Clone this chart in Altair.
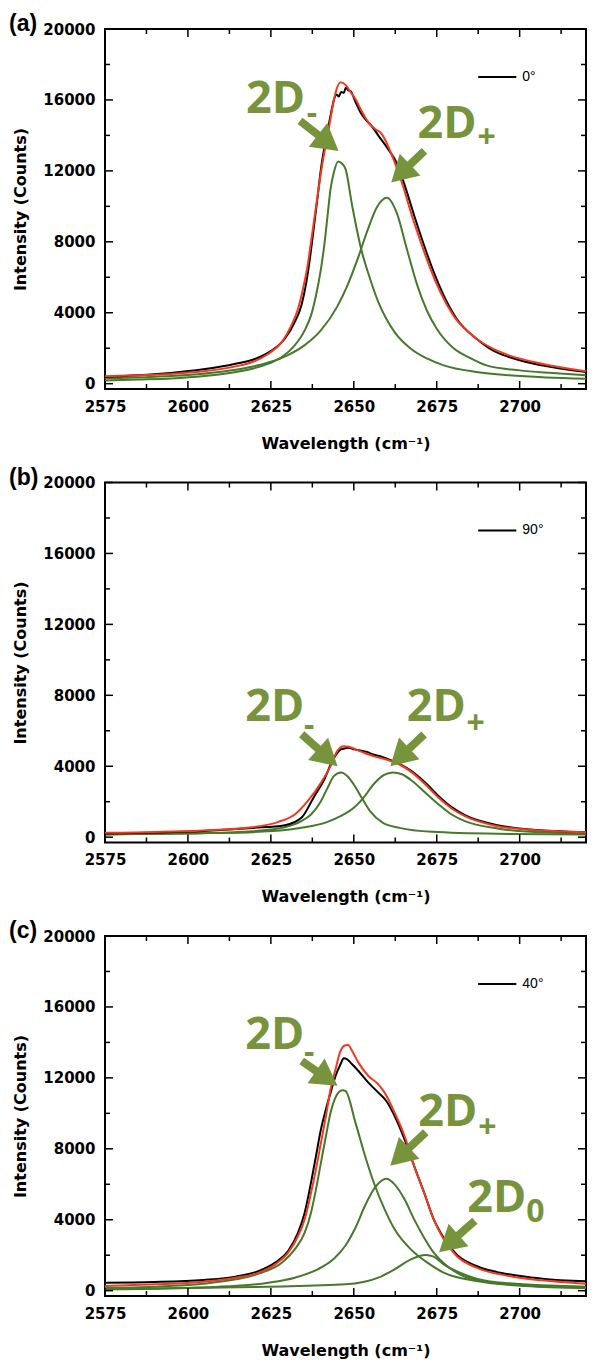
import math
import altair as alt
import pandas as pd

# ---------------- axes / layout constants ----------------
X_DOMAIN = [2575, 2720]
Y_DOMAIN = [-300, 20000]
W, H = 481, 360
LEFT = 96

x_tick_labels = [2575, 2600, 2625, 2650, 2675, 2700]
x_minor = [2587.5, 2612.5, 2637.5, 2662.5, 2687.5, 2712.5]
y_tick_labels = [0, 4000, 8000, 12000, 16000, 20000]
y_minor = [2000, 6000, 10000, 14000, 18000]

OLIVE = "#77933c"
GREEN = "#46792b"
RED = "#f2391f"

# ---------------- panel (a) 0 deg ----------------
a_m_x = [2575, 2585, 2595, 2605, 2612.5, 2619.4, 2624.3, 2628.3, 2632.2, 2635.2, 2637.1, 2638.6, 2640.1, 2641.1,
         2642.1, 2643, 2644, 2645.3, 2646.5, 2647.5, 2649.5, 2652.2, 2654.9, 2657.4, 2659.8, 2662.3, 2667.2,
         2672.2, 2677.1, 2687, 2696.8, 2708, 2720]
a_m_y = [180, 230, 290, 430, 600, 845, 1127, 1502, 2160, 3005, 3850, 4977, 6479, 7794, 9484, 10986, 11925, 12526,
         12400, 12113, 10047, 7606, 5916, 4600, 3662, 2911, 1972, 1408, 1033, 657, 470, 350, 282]
a_p_x = [2575, 2590, 2600, 2610, 2620, 2625, 2630, 2635, 2640, 2645, 2648, 2651, 2654, 2657, 2660, 2663, 2666,
         2669, 2672, 2675, 2680, 2685, 2690, 2700, 2710, 2720]
a_p_y = [300, 390, 490, 670, 980, 1235, 1600, 2146, 2990, 4345, 5500, 6950, 8570, 9960, 10480, 9600, 7590, 5630,
         4140, 3100, 2010, 1450, 1030, 750, 600, 470]
a_red_x = [2575, 2584.9, 2594.7, 2604.6, 2614.4, 2619.4, 2624.3, 2628.3, 2631.2, 2633.2, 2634.7, 2636.1, 2637.1,
           2638.1, 2639.1, 2640.6, 2642.1, 2643.3, 2644.5, 2646, 2647.5, 2649, 2650.5, 2652, 2653.4, 2655, 2656.4,
           2658.4, 2659.8, 2661, 2662.3, 2664.8, 2667.2, 2670.2, 2673.1, 2676.1, 2680, 2687, 2691.9, 2696.8,
           2706.7, 2720]
a_red_y = [413, 470, 545, 695, 977, 1221, 1690, 2348, 3287, 4226, 5352, 6667, 7982, 9296, 10611, 12489, 13991,
           15300, 16400, 16996, 16850, 16450, 16057, 15500, 15024, 14600, 14367, 14085, 13615, 13100, 12489, 11174,
           9672, 7982, 6479, 5164, 3850, 2535, 1972, 1596, 1127, 695]
a_blk_x = [2575, 2584.9, 2594.7, 2604.6, 2614.4, 2620.4, 2625.3, 2629.2, 2632.2, 2634.2, 2635.7, 2636.9, 2637.9,
           2638.9, 2640.1, 2641.6, 2643, 2644, 2644.8, 2645.5, 2646.2, 2647, 2647.6, 2648.3, 2649, 2650.5, 2652,
           2653.4, 2655.5, 2657.4, 2660.3, 2663.3, 2665.7, 2668.2, 2671.2, 2674.1, 2677.1, 2681, 2687, 2691.9,
           2696.8, 2706.7, 2720]
a_blk_y = [376, 470, 601, 808, 1127, 1408, 1878, 2535, 3474, 4413, 5728, 7230, 8733, 10235, 12113, 13803, 15118,
           16000, 16300, 16200, 16450, 16400, 16700, 16550, 16500, 15900, 15300, 14930, 14500, 13991, 13240, 12300,
           10986, 9484, 7794, 6291, 4977, 3662, 2535, 1878, 1502, 1033, 657]

# ---------------- panel (b) 90 deg ----------------
b_m_x = [2575, 2590, 2604.6, 2619.4, 2629.2, 2634.2, 2637.1, 2640.1, 2642.1, 2644, 2646.2, 2648, 2650, 2652.4,
         2654.9, 2658.8, 2663.8, 2673.6, 2693.3, 2720]
b_m_y = [150, 190, 226, 338, 564, 902, 1278, 2030, 2782, 3440, 3650, 3450, 2970, 2218, 1466, 808, 526, 300, 188, 150]
b_p_x = [2575, 2600, 2619.4, 2634.2, 2642.1, 2646, 2650, 2652.9, 2655.9, 2659, 2661.8, 2664.5, 2667.7, 2671.6,
         2675.6, 2679.5, 2683.5, 2693.3, 2703.2, 2720]
b_p_y = [170, 220, 282, 526, 865, 1184, 1654, 2218, 2970, 3500, 3650, 3550, 3158, 2500, 1842, 1278, 902, 489, 300, 207]
b_red_x = [2575, 2604.6, 2619.4, 2627.3, 2632.2, 2636.1, 2640.1, 2643, 2645, 2647, 2648.5, 2651.9, 2655.9, 2659.8,
           2663.8, 2667.7, 2671.6, 2675.6, 2679.5, 2683.5, 2693.3, 2703.2, 2720]
b_red_y = [244, 376, 564, 865, 1278, 2030, 3064, 4004, 4850, 5132, 5095, 4850, 4568, 4380, 4098, 3628, 2970, 2218,
           1617, 1184, 620, 414, 282]
b_blk_x = [2575, 2604.6, 2619.4, 2629.2, 2634.2, 2638.1, 2641.1, 2643.5, 2646, 2647.2, 2648.5, 2650, 2651.9, 2654,
           2655.9, 2658, 2659.8, 2663.8, 2667.7, 2671.6, 2675.6, 2679.5, 2683.5, 2693.3, 2703.2, 2720]
b_blk_y = [207, 350, 520, 677, 1090, 2312, 3252, 4286, 4944, 5000, 5038, 4950, 4888, 4800, 4662, 4560, 4437, 4136,
           3685, 3064, 2312, 1692, 1241, 677, 432, 282]

# ---------------- panel (c) 40 deg ----------------
c_m_x = [2575, 2589.8, 2604.6, 2614.4, 2622.3, 2628.3, 2632.2, 2635.2, 2637.1, 2638.6, 2640.1, 2641.6, 2643, 2644.5,
         2646.5, 2647.5, 2650.5, 2653.4, 2656.4, 2659.3, 2662.3, 2667.2, 2672.2, 2677.1, 2687, 2701.7, 2720]
c_m_y = [150, 226, 395, 639, 1015, 1579, 2331, 3271, 4399, 5715, 7219, 8723, 10039, 10900, 11300, 11261, 9475, 7595,
         5903, 4587, 3459, 2331, 1579, 1015, 545, 263, 150]
c_p_x = [2575, 2609.5, 2624.3, 2632.2, 2639.1, 2644, 2647.5, 2650.5, 2653.4, 2656.5, 2659.8, 2662.3, 2665.3, 2668.2,
         2671.2, 2674.1, 2678.1, 2683, 2691.9, 2706.7, 2720]
c_p_y = [75, 226, 451, 733, 1203, 1800, 2550, 3550, 4800, 5850, 6317, 5997, 5151, 4023, 2989, 2143, 1391, 827, 451,
         263, 169]
c_0_x = [2575, 2624.3, 2647.5, 2657.4, 2662.3, 2667.2, 2671.7, 2674.1, 2677.1, 2682, 2687, 2696.8, 2720]
c_0_y = [75, 226, 357, 733, 1203, 1767, 2012, 1918, 1485, 1015, 677, 414, 226]
c_red_x = [2575, 2589.8, 2604.6, 2614.4, 2621.4, 2626.3, 2630.2, 2633.2, 2635.2, 2636.9, 2638.6, 2640.1, 2641.6,
           2643, 2644.5, 2646, 2647.5, 2648.3, 2649.5, 2651.4, 2654.4, 2657.4, 2659.3, 2662.3, 2665.3, 2668.2,
           2671.2, 2674.1, 2677.1, 2681, 2687, 2696.8, 2706.7, 2720]
c_red_y = [263, 357, 508, 733, 1015, 1485, 2143, 3083, 4023, 5339, 6843, 8347, 9851, 11355, 12483, 13517, 13837,
           13850, 13517, 12859, 12107, 11637, 11167, 10039, 8723, 7031, 5527, 4023, 2895, 1955, 1297, 827, 583, 395]
c_blk_x = [2575, 2589.8, 2604.6, 2614.4, 2621.4, 2626.3, 2630.2, 2633.2, 2635.2, 2637.1, 2638.6, 2640.1, 2641.6,
           2643, 2644.5, 2646, 2647, 2648, 2649.5, 2651.4, 2654.4, 2657.4, 2659.8, 2662.3, 2665.3, 2668.2, 2671.2,
           2674.1, 2677.1, 2681, 2687, 2696.8, 2706.7, 2720]
c_blk_y = [451, 489, 602, 790, 1109, 1579, 2237, 3271, 4399, 6091, 7595, 9099, 10227, 11167, 12107, 12765, 13100,
           13047, 12765, 12389, 11731, 11167, 10697, 9851, 8535, 7031, 5527, 4023, 2989, 2049, 1391, 921, 677, 526]

# ---------------- annotations (data units) ----------------
a_lab_x = [2617.5, 2669.2]
a_lab_y = [15285, 13843]
a_sub_t = ["-", "+"]
a_sub_x = [2635.8, 2687.3]
a_sub_y = [15195, 13860]
a_arr = [[2633.8, 2671.3], [14817, 13127], [2645.4, 2661.3], [13127, 11341]]

b_lab_x = [2617.3, 2666.0]
b_lab_y = [6542, 6542]
b_sub_t = ["-", "+"]
b_sub_x = [2635.0, 2684.0]
b_sub_y = [6260, 6401]
b_arr = [[2634.3, 2671.2], [5800, 5790], [2645.1, 2661.0], [4004, 4004]]

c_lab_x = [2617.3, 2669.4, 2684.2]
c_lab_y = [13632, 9289, 4422]
c_sub_t = ["-", "+", "0"]
c_sub_x = [2635.0, 2687.5, 2702.0]
c_sub_y = [13400, 9148, 4422]
c_arr = [[2634.3, 2671.7, 2686.5], [12950, 8934, 3948], [2645.1, 2661.0, 2675.7], [11562, 7050, 2166]]

legend_x = [2687.5, 2699.0]
legend_y = 17300
legend_text_x = 2700.8

XS = alt.Scale(domain=X_DOMAIN, nice=False, zero=False)
YS = alt.Scale(domain=Y_DOMAIN, nice=False, zero=False)

TICK_FONT = "DejaVu Sans"

X_AXIS = alt.Axis(values=x_tick_labels, format="d", title="Wavelength (cm⁻¹)", grid=False, domain=False,
                  ticks=True, tickSize=0, tickWidth=0, labelFont=TICK_FONT, labelFontSize=15,
                  labelFontWeight="bold", labelColor="black", labelPadding=10, labelFlush=False,
                  labelOverlap=False, titleFont=TICK_FONT, titleFontSize=16, titleFontWeight="bold",
                  titleColor="black", titleY=46, titleBaseline="top")
Y_AXIS = alt.Axis(values=y_tick_labels, format="d", title="Intensity (Counts)", grid=False, domain=False,
                  ticks=True, tickSize=0, tickWidth=0, labelFont=TICK_FONT, labelFontSize=15,
                  labelFontWeight="bold", labelColor="black", labelPadding=10, labelFlush=False,
                  labelOverlap=False, titleFont=TICK_FONT, titleFontSize=16, titleFontWeight="bold",
                  titleColor="black", titleX=-(LEFT - 11), titleY=H / 2, titleAngle=270, titleAlign="center",
                  titleBaseline="middle")


def X(field):
    return alt.X(field, scale=XS, axis=X_AXIS)


def Y(field):
    return alt.Y(field, scale=YS, axis=Y_AXIS)


def line_layer(curves, color):
    rows = []
    for k, (xs, ys) in enumerate(curves):
        for i, (x, y) in enumerate(zip(xs, ys)):
            rows.append({"x": x, "y": y, "s": k, "i": i})
    df = pd.DataFrame(rows)
    return alt.Chart(df).mark_line(color=color, strokeWidth=2, interpolate="monotone").encode(
        x=X("x:Q"), y=Y("y:Q"), detail="s:N", order="i:Q")


def tick_layer(vals, orient, length):
    df = pd.DataFrame({"v": vals})
    m = alt.Chart(df).mark_rule(color="black", strokeWidth=1.5)
    if orient == "bottom":
        return m.encode(x=X("v:Q"), y=alt.value(H), y2=alt.value(H - length))
    if orient == "top":
        return m.encode(x=X("v:Q"), y=alt.value(0), y2=alt.value(length))
    if orient == "left":
        return m.encode(y=Y("v:Q"), x=alt.value(0), x2=alt.value(length))
    return m.encode(y=Y("v:Q"), x=alt.value(W), x2=alt.value(W - length))


def arrow_layers(arr):
    tail_x, tail_y, tip_x, tip_y = arr
    sx = W / (X_DOMAIN[1] - X_DOMAIN[0])
    sy = H / (Y_DOMAIN[1] - Y_DOMAIN[0])
    rows = []
    for x0, y0, x1, y1 in zip(tail_x, tail_y, tip_x, tip_y):
        dxp = (x1 - x0) * sx
        dyp = -(y1 - y0) * sy
        L = math.hypot(dxp, dyp)
        ang = math.degrees(math.atan2(dxp, -dyp)) % 360
        fh = 13.0 / L
        fs = 16.0 / L
        rows.append({"x0": x0, "y0": y0,
                     "x1": x1 - (x1 - x0) * fs, "y1": y1 - (y1 - y0) * fs,
                     "hx": x1 - (x1 - x0) * fh, "hy": y1 - (y1 - y0) * fh, "ang": ang})
    df = pd.DataFrame(rows)
    shaft = alt.Chart(df).mark_rule(color=OLIVE, strokeWidth=8, strokeCap="butt").encode(
        x=X("x0:Q"), y=Y("y0:Q"), x2="x1:Q", y2="y1:Q")
    head = alt.Chart(df).mark_point(shape="triangle-up", filled=True, size=900, opacity=1, color=OLIVE,
                                    strokeWidth=0).encode(
        x=X("hx:Q"), y=Y("hy:Q"), angle=alt.Angle("ang:Q", scale=None))
    return [shaft, head]


def text_layer(xs, ys, texts, size, baseline, font="Open Sans"):
    df = pd.DataFrame({"x": xs, "y": ys, "t": texts})
    return alt.Chart(df).mark_text(align="left", baseline=baseline, font=font, fontWeight="bold",
                                   fontSize=size, color=OLIVE).encode(
        x=X("x:Q"), y=Y("y:Q"), text="t:N")


def panel(tag, greens, black, red, lab_x, lab_y, sub_t, sub_x, sub_y, arr, legend_label):
    layers = [line_layer(greens, GREEN),
              line_layer([black], "black"),
              line_layer([red], RED)]
    for vals, ln in ((x_tick_labels, 8), (x_minor, 5)):
        layers.append(tick_layer(vals, "bottom", ln))
        layers.append(tick_layer(vals, "top", ln))
    for vals, ln in ((y_tick_labels, 8), (y_minor, 5)):
        layers.append(tick_layer(vals, "left", ln))
        layers.append(tick_layer(vals, "right", ln))
    layers += arrow_layers(arr)
    layers.append(text_layer(lab_x, lab_y, ["2D"] * len(lab_x), 45, "alphabetic"))
    layers.append(text_layer(sub_x, sub_y, sub_t, 32, "middle"))
    # legend
    leg = pd.DataFrame({"x": [legend_x[0]], "x2": [legend_x[1]], "y": [legend_y],
                        "tx": [legend_text_x], "t": [legend_label]})
    layers.append(alt.Chart(leg).mark_rule(color="black", strokeWidth=2).encode(
        x=X("x:Q"), x2="x2:Q", y=Y("y:Q")))
    layers.append(alt.Chart(leg).mark_text(align="left", baseline="middle", font="Liberation Sans",
                                           fontSize=14, color="black").encode(
        x=X("tx:Q"), y=Y("y:Q"), text="t:N"))
    # panel letter
    layers.append(alt.Chart(pd.DataFrame({"t": [tag]})).mark_text(
        align="left", baseline="top", font="Liberation Sans", fontWeight="bold", fontSize=23,
        color="black").encode(
        x=alt.value(-LEFT), y=alt.value(-16), text="t:N"))
    return alt.layer(*layers).properties(width=W, height=H)


pa = panel("(a)", [(a_m_x, a_m_y), (a_p_x, a_p_y)], (a_blk_x, a_blk_y), (a_red_x, a_red_y),
           a_lab_x, a_lab_y, a_sub_t, a_sub_x, a_sub_y, a_arr, "0°")
pb = panel("(b)", [(b_m_x, b_m_y), (b_p_x, b_p_y)], (b_blk_x, b_blk_y), (b_red_x, b_red_y),
           b_lab_x, b_lab_y, b_sub_t, b_sub_x, b_sub_y, b_arr, "90°")
pc = panel("(c)", [(c_m_x, c_m_y), (c_p_x, c_p_y), (c_0_x, c_0_y)], (c_blk_x, c_blk_y), (c_red_x, c_red_y),
           c_lab_x, c_lab_y, c_sub_t, c_sub_x, c_sub_y, c_arr, "40°")

chart = alt.vconcat(pa, pb, pc, spacing=13.5).properties(
    padding={"left": 0, "top": 4, "right": 0, "bottom": 0}, background="white").configure_view(
    stroke="black", strokeWidth=2)

chart.save("out.html", embed_options={"renderer": "svg", "actions": False})
